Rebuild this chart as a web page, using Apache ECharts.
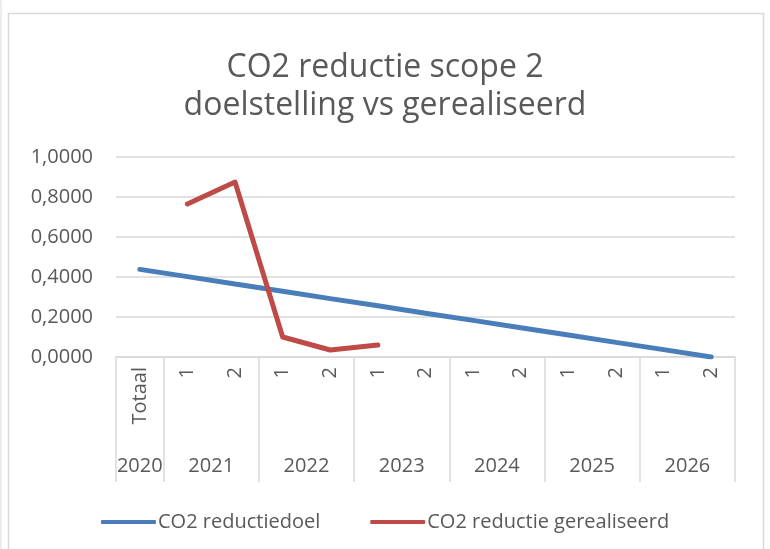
<!DOCTYPE html>
<html>
<head>
<meta charset="utf-8">
<title>CO2 reductie scope 2</title>
<script src="https://cdn.jsdelivr.net/npm/echarts@6/dist/echarts.min.js"></script>
<style>
    html, body { margin: 0; padding: 0; background: #fff; }
    #chart { width: 770px; height: 549px; }
</style>
</head>
<body>
<div id="chart"></div>
<script>
    // categorieen (halfjaar) en jaren
    var categories = ['Totaal', '1', '2', '1', '2', '1', '2', '1', '2', '1', '2', '1', '2'];
    var years = ['2020', '2021', '2022', '2023', '2024', '2025', '2026'];
    var yearCenters = [0.5, 2, 4, 6, 8, 10, 12];
    var yearBounds = [0, 1, 3, 5, 7, 9, 11, 13];

    // waarden
    var reductiedoel = [0.438, 0.402, 0.365, 0.329, 0.292, 0.256, 0.219, 0.183, 0.146, 0.110, 0.073, 0.037, 0.000];
    var gerealiseerd = [null, 0.765, 0.875, 0.100, 0.035, 0.060, null, null, null, null, null, null, null];

    var yTicks = { min: 0, max: 1, interval: 0.2 };

    var grey = '#595959';
    var lineGrey = '#d9d9d9';
    var font = 'Open Sans';

    var myChart = echarts.init(document.getElementById('chart'));
    myChart.setOption({
        animation: false,
        textStyle: { fontFamily: font },
        color: ['#4a7ebb', '#be4b48'],
        graphic: [
            // kader om de grafiek
            { type: 'rect', shape: { x: 8.5, y: 13.5, width: 755, height: 545 },
              style: { fill: 'none', stroke: lineGrey, lineWidth: 1.5 } },
            { type: 'line', shape: { x1: 1, y1: 0, x2: 1, y2: 549 },
              style: { stroke: lineGrey, lineWidth: 1 } }
        ],
        title: {
            text: 'CO2 reductie scope 2\ndoelstelling vs gerealiseerd',
            left: 'center',
            top: 44,
            textStyle: { fontSize: 32, fontWeight: 'normal', color: grey, lineHeight: 38, fontFamily: font }
        },
        legend: {
            top: 507,
            left: 96,
            itemWidth: 55,
            itemHeight: 4,
            itemGap: 50,
            icon: 'roundRect',
            textStyle: { fontSize: 20, color: grey, padding: [0, 0, 0, -3] },
            data: ['CO2 reductiedoel', 'CO2 reductie gerealiseerd']
        },
        grid: { left: 116, right: 35, top: 157, bottom: 192 },
        xAxis: [
            {
                type: 'category',
                data: categories,
                boundaryGap: true,
                axisLine: { lineStyle: { color: lineGrey, width: 1.5 } },
                axisTick: { show: false },
                axisLabel: { rotate: 90, margin: 10, fontSize: 20, color: grey, interval: 0 }
            },
            {
                type: 'value',
                min: 0,
                max: 13,
                position: 'bottom',
                offset: 125,
                axisLine: { show: false },
                splitLine: { show: false },
                axisTick: {
                    show: true,
                    inside: true,
                    length: 125,
                    customValues: yearBounds,
                    lineStyle: { color: lineGrey, width: 1.5 }
                },
                axisLabel: {
                    customValues: yearCenters,
                    margin: -26,
                    fontSize: 20,
                    color: grey,
                    formatter: function (v) {
                        return years[yearCenters.indexOf(v)];
                    }
                }
            }
        ],
        yAxis: {
            type: 'value',
            min: yTicks.min,
            max: yTicks.max,
            interval: yTicks.interval,
            axisLine: { show: false },
            axisTick: { show: false },
            splitLine: { lineStyle: { color: lineGrey, width: 1.5 } },
            axisLabel: {
                fontSize: 20,
                color: grey,
                margin: 23,
                formatter: function (v) { return v.toFixed(4).replace('.', ','); }
            }
        },
        series: [
            {
                name: 'CO2 reductiedoel',
                type: 'line',
                data: reductiedoel,
                symbol: 'none',
                lineStyle: { width: 5, cap: 'round' }
            },
            {
                name: 'CO2 reductie gerealiseerd',
                type: 'line',
                data: gerealiseerd,
                symbol: 'none',
                lineStyle: { width: 5, cap: 'round', join: 'round' }
            }
        ]
    });
</script>
</body>
</html>
